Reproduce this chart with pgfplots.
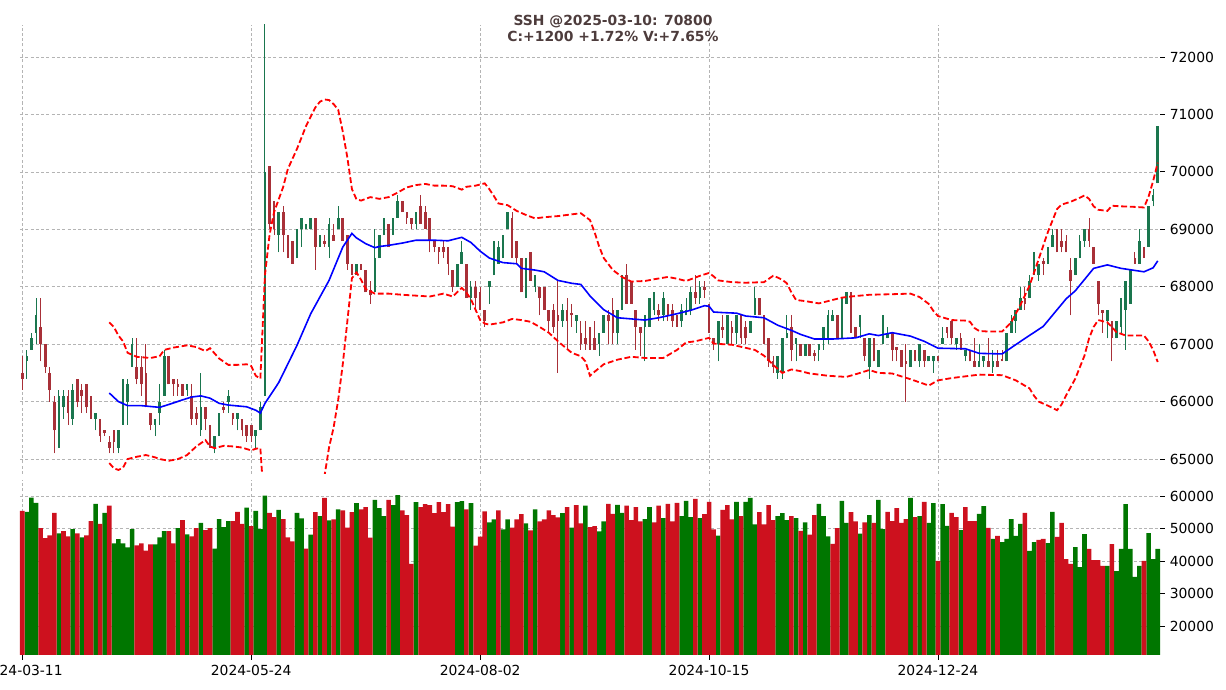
\documentclass[border=0pt]{standalone}
\usepackage{fontspec}
\setmainfont{DejaVu Sans}
\usepackage{pgfplots}
\usepackage{pgfplotstable}
\pgfplotsset{compat=1.18}
\definecolor{cgreen}{RGB}{26,118,78}
\definecolor{cred}{RGB}{168,48,56}
\definecolor{vgreen}{RGB}{0,118,0}
\definecolor{vred}{RGB}{205,17,30}
\definecolor{titlec}{RGB}{77,60,60}
\definecolor{gridc}{RGB}{180,180,180}

% green candles: index, low, high, open(bottom), close(top)
\pgfplotstableread{
i lo hi bot top
1 66400 66900 66700 66800
2 66900 67200 66900 67100
3 67000 67800 67200 67500
8 65200 66200 65200 66100
9 65700 66200 65900 66100
11 65600 66300 65700 66200
16 65500 65800 65700 65800
21 65100 65500 65200 65500
22 65600 66400 65700 66100
23 65600 66400 66000 66300
24 66600 67100 66600 67000
29 65400 65700 65600 65700
30 65600 66300 65800 66000
31 66100 66900 66100 66800
36 66100 66300 66200 66300
39 65400 66500 65500 65900
42 65100 65400 65200 65400
43 65400 65800 65400 65800
45 65800 66200 66000 66100
47 65500 65800 65700 65800
51 65200 65500 65400 65500
52 65500 66000 65500 65900
53 66100 72600 66100 70000
56 68600 69300 68900 69300
60 68500 69000 68500 69000
61 68700 69200 69000 69200
62 69000 69100 69000 69100
63 69000 69200 69000 69200
65 68700 68900 68700 68900
67 68500 69200 68700 69100
69 69000 69400 69000 69200
73 68200 68400 68200 68400
77 67900 69000 67900 68500
78 68500 68900 68500 68900
79 68900 69200 68900 69100
81 68900 69200 68900 69200
82 69200 69600 69200 69500
86 69000 69300 69100 69300
95 68000 68400 68000 68400
96 68400 68800 68400 68600
98 67600 68100 67800 68000
102 67700 68100 68000 68100
103 68200 68800 68200 68800
104 68400 68800 68400 68700
105 68500 68900 68500 68800
106 69000 69300 69000 69300
110 67800 68500 67800 68500
112 67900 68200 68000 68200
118 67300 67700 67400 67600
121 67200 67500 67400 67500
126 66800 67200 67000 67200
127 67200 67500 67200 67500
130 67000 67600 67200 67600
131 67600 68200 67600 68200
136 66700 67500 67300 67500
137 67300 67800 67300 67800
138 67500 67900 67600 67900
140 67400 67900 67500 67800
144 67300 67700 67400 67600
145 67500 67800 67500 67600
146 67500 68000 67600 67900
148 67700 68100 67800 68000
152 66700 67400 67000 67400
154 67000 67500 67000 67500
156 67000 67500 67200 67500
159 67200 67400 67200 67400
160 67500 68000 67500 67800
165 66400 66800 66500 66800
166 66400 67100 66500 67100
167 67100 67500 67100 67200
169 66700 67100 67000 67100
171 66800 67000 66800 67000
174 66700 67000 66900 67000
175 66900 67300 67100 67300
176 67000 67600 67100 67500
177 67400 67600 67400 67500
179 67100 67800 67100 67800
180 67700 67900 67700 67900
183 67100 67500 67300 67500
185 66400 67100 66600 67100
187 66600 66900 66600 66900
188 67000 67500 67000 67500
189 67100 67300 67100 67200
194 66600 66900 66600 66900
196 66600 67000 66700 67000
198 66700 66800 66700 66800
199 66500 66800 66700 66800
201 67000 67300 67000 67100
204 66900 67100 67000 67100
206 66700 66900 66800 66900
209 66600 67000 66600 66700
210 66600 66800 66700 66800
212 66500 66900 66600 66700
215 66700 67200 66700 67200
216 67200 67500 67200 67400
217 67200 67600 67400 67600
218 67600 68000 67600 67800
220 67800 68200 67800 68100
221 68200 68600 68200 68600
222 68100 68400 68200 68400
224 68400 68700 68400 68700
225 68700 69000 68700 68900
230 68200 68500 68200 68500
231 68500 68900 68500 68800
232 68700 69000 68800 69000
237 67100 67600 67400 67600
239 67100 67400 67100 67400
240 67200 67800 67300 67800
241 66900 68100 67600 68100
242 67700 68300 67700 68300
244 68400 69000 68400 68800
246 68700 69400 68700 69400
247 69400 69700 69500 69600
248 69800 70800 69800 70800
}\gcandle

% red candles: index, low, high, close(bottom), open(top)
\pgfplotstableread{
i lo hi bot top
0 66200 66800 66400 66500
4 66700 67800 67000 67300
5 66500 67000 66600 67000
6 66000 66600 66200 66500
7 65100 66100 65500 66000
10 65600 66200 65800 66100
12 65900 66400 66000 66400
13 65800 66300 66100 66200
14 65800 66300 65900 66300
15 65700 66100 65700 66100
17 65300 65700 65400 65700
18 65400 65500 65450 65500
19 65100 65400 65200 65300
20 65100 65500 65300 65500
25 66300 67100 66400 66600
26 66100 66800 66300 66600
27 65900 67000 65900 66500
28 65500 65800 65600 65800
32 66300 66800 66300 66800
33 66100 66400 66300 66400
34 66100 66400 66250 66300
35 66100 66300 66100 66300
37 65600 66300 65700 66100
38 65600 65900 65700 65800
40 65500 65900 65700 65900
41 65200 65600 65200 65600
44 65800 66000 65850 65900
46 65600 65800 65700 65800
48 65400 65700 65500 65700
49 65300 65600 65400 65600
50 65300 65600 65400 65600
54 69000 70100 69100 70100
55 68900 69500 69000 69500
57 68600 69400 68900 69300
58 68500 68900 68500 68900
59 68400 68800 68400 68800
64 68300 69200 68700 69200
66 68700 68900 68750 68800
68 68800 69100 68800 68900
70 68800 69200 68800 69200
71 68300 68900 68400 68900
72 68200 68400 68200 68400
74 68300 68400 68300 68400
75 67900 68300 67900 68300
76 67700 68100 67850 67950
80 68700 69100 68700 69100
83 69300 69500 69300 69500
84 69100 69300 69200 69300
85 69000 69200 69100 69200
87 69100 69600 69100 69400
88 69000 69400 69000 69300
89 68600 69200 68800 69200
90 68600 68800 68700 68800
91 68400 68700 68600 68700
92 68500 68800 68600 68700
93 68200 68700 68400 68700
94 67900 68300 68000 68300
97 67800 68400 67800 68400
99 67600 68100 67800 68000
100 67600 68000 67600 67900
101 67300 67600 67400 67600
107 68500 69300 68500 69200
108 68400 68800 68500 68800
109 67900 68500 67900 68500
111 68100 68600 68100 68600
113 67500 68000 67800 68000
114 67600 68000 67600 68000
115 67200 67600 67400 67600
116 67200 67700 67300 67600
117 66500 68100 67400 67500
119 66900 67800 67400 67600
120 67300 67700 67500 67550
122 66900 67400 67000 67200
123 66900 67400 67000 67100
124 66900 67300 67000 67100
125 66900 67400 66900 67100
128 67000 67600 67400 67500
129 67000 67800 67200 67600
132 67700 68400 67700 68200
133 67700 68100 67700 68100
134 66900 67600 67300 67600
135 66800 67300 67200 67300
139 67400 67700 67500 67600
141 67400 67700 67500 67700
142 67300 67700 67400 67600
143 67300 67500 67300 67400
147 67700 68200 67800 67900
149 67800 68100 67950 68000
150 67200 67700 67200 67700
151 66900 67100 67000 67100
153 67100 67500 67250 67300
155 67000 67400 67200 67300
157 67000 67500 67100 67500
158 67000 67400 67100 67300
161 67500 67800 67500 67800
162 67000 67500 67000 67500
163 66600 67100 66700 67100
164 66500 66800 66600 66700
168 66700 67500 66900 67300
170 66800 67000 66800 67000
172 66800 67000 66800 67000
173 66700 66900 66800 66850
178 67100 67500 67100 67500
181 67200 67900 67200 67900
182 67100 67300 67100 67300
184 66700 67100 66800 67100
186 66700 67100 66700 67100
190 66700 67200 66900 67200
191 66700 66950 66900 66950
192 66600 66900 66600 66900
193 66000 67000 66650 66700
195 66700 66900 66700 66900
197 66600 66900 66700 66900
200 66700 66800 66700 66800
202 67100 67300 67200 67300
203 67000 67400 67100 67400
205 66900 67200 66900 67100
207 66700 66900 66700 66800
208 66600 67100 66600 66700
211 66600 67100 66600 66700
213 66600 66900 66600 66700
214 66700 66900 66700 66750
219 67600 68000 67700 67800
223 68200 68500 68400 68450
226 68600 69000 68800 68900
227 68600 69000 68700 68800
228 68600 68900 68600 68800
229 67500 68500 68100 68300
233 68700 69200 68800 69000
234 68400 68700 68400 68700
235 67500 68100 67700 68100
236 67200 67600 67550 67600
238 66700 67400 67100 67400
243 68400 68600 68400 68500
245 68500 68700 68600 68650
}\rcandle

\pgfplotstableread{
i v
1 55100
2 59500
3 57900
8 48500
11 49800
13 47300
16 57600
18 54800
20 45400
21 46700
22 45400
23 44200
24 49800
29 45100
30 47300
31 49200
34 50100
36 48200
39 51700
42 43800
43 52900
44 50400
45 52300
49 56400
51 55400
52 49800
53 60100
56 55700
60 54800
61 53100
63 48100
65 53800
67 52500
69 55900
73 57800
77 58800
78 56300
79 53800
81 57200
82 60300
86 58100
95 58100
96 58400
98 57800
102 51900
103 52800
105 49700
106 52800
110 51600
112 55900
118 54700
120 50300
123 57000
126 49100
127 52200
130 57300
131 54800
136 52900
137 56600
140 53200
144 53800
145 58500
146 53500
148 53200
152 47800
156 58200
158 58200
159 59400
160 51300
165 53800
166 54700
167 52600
169 53200
171 51900
174 57600
175 53800
176 47600
179 58500
180 51700
183 48400
185 54100
187 58800
188 49800
194 59400
196 53800
198 51700
199 57800
201 57500
202 50800
205 49500
209 54500
210 56900
212 46800
214 45800
215 46800
216 52900
217 47700
218 51400
220 43100
221 45800
224 45500
225 55100
230 44300
231 38100
232 48300
237 38500
239 36900
240 43700
241 57500
242 43700
243 35100
244 38500
246 48600
247 40600
248 43700
}\gvol

\pgfplotstableread{
i v
0 55400
4 50100
5 47000
6 47900
7 54800
9 49200
10 47600
12 48500
14 47900
15 52300
17 51400
19 57000
25 44800
26 45400
27 43200
28 45100
32 49200
33 45400
35 52600
37 47600
38 50100
40 49500
41 50100
46 52300
47 55100
48 51400
50 50700
54 54800
55 53500
57 52900
58 47300
59 46000
62 43800
64 55000
66 59400
68 52800
70 55600
71 50300
72 55000
74 55900
75 56600
76 47200
80 58800
83 55600
84 54100
85 39100
87 56600
88 57500
89 57200
90 54700
91 58100
92 55000
93 57500
94 50600
97 55900
99 44700
100 47500
101 55300
104 55600
107 50300
108 52800
109 54400
111 49400
113 52200
114 52800
115 55600
116 54100
117 53400
119 56600
121 57200
122 51600
124 50400
125 50700
128 57600
129 54500
132 57000
133 52600
134 56600
135 52200
138 51900
139 57000
141 57600
142 52200
143 57900
147 59100
149 54400
150 58200
151 49700
153 55700
154 57200
155 52800
157 53800
161 55000
162 51300
163 57200
164 52600
168 53800
170 49300
172 48100
173 54100
177 45300
178 50100
181 55000
182 52200
184 51900
186 51700
189 55100
190 52300
191 56300
192 51700
193 52900
195 53500
197 58200
200 40000
203 54800
204 53500
206 56600
207 52300
208 52300
211 50200
213 47700
219 54800
222 46500
223 46800
226 47400
227 51700
228 40600
229 39100
233 43700
234 40300
235 40300
236 38500
238 45200
245 40000
}\rvol

\pgfplotsset{
  chartbase/.style={
    scale only axis, anchor=south west,
    width=820.8pt,
    xmin=-0.5, xmax=248.5,
    axis line style={draw=none},
    xtick={0,50,100,150,200},
    ytick pos=right, yticklabel pos=right,
    scaled y ticks=false, scaled x ticks=false,
    tick align=outside, major tick length=3.5pt,
    tick style={black, line width=0.6pt},
    grid=major,
    major grid style={gridc, line width=0.5pt, dash pattern=on 2.2pt off 1.6pt},
    tick label style={font=\fontsize{10}{12}\selectfont},
    /pgf/number format/assume math mode=true,
  },
}

\begin{document}
\begin{tikzpicture}
% price panel
\begin{axis}[chartbase,
  at={(14.4pt,155.52pt)}, height=323.28pt,
  ymin=64740, ymax=72557,
  xticklabels={}, xtick style={draw=none},
  ytick={65000,66000,67000,68000,69000,70000,71000,72000},
  yticklabels={65000,66000,67000,68000,69000,70000,71000,72000},
]
% wicks
\addplot[draw=none, mark=none, forget plot,
  error bars/.cd, y dir=plus, y explicit, error mark=none,
  error bar style={draw=cgreen, line width=0.75pt}]
  table[x=i, y=lo, y error plus expr={\thisrow{hi}-\thisrow{lo}}] {\gcandle};
\addplot[draw=none, mark=none, forget plot,
  error bars/.cd, y dir=plus, y explicit, error mark=none,
  error bar style={draw=cred, line width=0.75pt}]
  table[x=i, y=lo, y error plus expr={\thisrow{hi}-\thisrow{lo}}] {\rcandle};
% bodies
\addplot[draw=none, mark=none, forget plot,
  error bars/.cd, y dir=plus, y explicit, error mark=none,
  error bar style={draw=cgreen, line width=1.9pt}]
  table[x=i, y=bot, y error plus expr={\thisrow{top}-\thisrow{bot}}] {\gcandle};
\addplot[draw=none, mark=none, forget plot,
  error bars/.cd, y dir=plus, y explicit, error mark=none,
  error bar style={draw=cred, line width=1.9pt}]
  table[x=i, y=bot, y error plus expr={\thisrow{top}-\thisrow{bot}}] {\rcandle};
% moving average
\addplot[blue, line width=1.15pt, mark=none] coordinates {
(19,66150) (21,66000) (23,65930) (26,65930) (30,65900) (32,65950) (35,66030) (37,66080) (39,66100) (41,66060) (43,65970) (45,65940) (49,65910) (51,65850) (52,65800) (53,65970) (56,66330) (60,66980) (63,67530) (67,68110) (70,68690) (72,68930) (73,68850) (75,68750) (77,68680) (78,68700) (80,68720) (83,68760) (86,68810) (90,68810) (93,68800) (96,68860) (98,68770) (100,68620) (102,68500) (105,68420) (108,68400) (109,68320) (112,68290) (114,68260) (117,68110) (120,68060) (122,68040) (124,67840) (127,67600) (130,67460) (136,67420) (139,67460) (143,67530) (146,67590) (149,67670) (150,67660) (151,67560) (153,67550) (156,67540) (158,67490) (162,67460) (165,67330) (168,67240) (170,67170) (173,67090) (177,67090) (182,67110) (185,67180) (187,67150) (190,67200) (194,67140) (197,67050) (200,66930) (206,66920) (209,66840) (214,66830) (219,67100) (223,67310) (228,67790) (230,67930) (234,68320) (237,68380) (240,68320) (245,68260) (247,68330) (248,68450)
};
% upper band
\addplot[red, line width=1.3pt, mark=none, dash pattern=on 4.2pt off 2pt] coordinates {
(19,67380) (20,67300) (21,67150) (22,67050) (23,66850) (25,66780) (28,66760) (30,66790) (31,66900) (33,66940) (36,66980) (38,66950) (40,66880) (41,66930) (43,66750) (45,66640) (47,66640) (49,66650) (50,66620) (51,66450) (52,66400) (53,68200) (54,68900) (55,69300) (57,69740) (58,70050) (60,70400) (62,70800) (64,71120) (65,71220) (66,71260) (67,71250) (68,71180) (69,71080) (70,70700) (71,70250) (72,69700) (73,69520) (74,69500) (76,69560) (78,69530) (80,69560) (82,69640) (84,69730) (86,69770) (88,69790) (90,69760) (92,69760) (94,69750) (96,69690) (97,69740) (99,69760) (101,69800) (102,69700) (103,69580) (104,69450) (106,69420) (108,69320) (110,69250) (112,69190) (114,69210) (117,69230) (120,69260) (122,69280) (124,69160) (125,68950) (126,68700) (127,68500) (129,68290) (131,68170) (133,68090) (136,68100) (138,68130) (141,68170) (143,68140) (145,68100) (148,68190) (150,68240) (151,68180) (152,68110) (155,68080) (158,68070) (162,68080) (164,68190) (165,68160) (166,68120) (167,68060) (168,67900) (169,67770) (171,67750) (174,67710) (177,67770) (179,67810) (181,67830) (185,67860) (190,67870) (194,67880) (196,67820) (198,67700) (199,67580) (200,67490) (203,67420) (206,67410) (207,67390) (208,67280) (209,67230) (211,67220) (214,67220) (216,67380) (218,67680) (220,68020) (222,68480) (224,68950) (225,69150) (226,69350) (227,69430) (229,69480) (231,69550) (232,69590) (233,69530) (234,69400) (235,69340) (237,69320) (238,69410) (240,69400) (243,69390) (245,69380) (246,69570) (247,69840) (248,70160)
};
% lower band
\addplot[red, line width=1.3pt, mark=none, dash pattern=on 4.2pt off 2pt] coordinates {
(19,64930) (20,64840) (21,64810) (22,64850) (23,65000) (25,65040) (27,65070) (29,65030) (30,65000) (32,64970) (34,65000) (36,65070) (38,65220) (40,65330) (41,65220) (42,65190) (44,65230) (46,65220) (48,65200) (50,65150) (51,65180) (52,65190) (53,64000) (55,63200) (58,62800) (60,62900) (62,63400) (64,64100) (65,64500) (66,64700) (67,65200) (68,65550) (69,66030) (70,66650) (71,67400) (72,68150) (73,68250) (74,68120) (75,67960) (77,67880) (80,67880) (83,67860) (85,67850) (89,67830) (92,67880) (94,67830) (96,67980) (97,67900) (98,67780) (99,67600) (100,67420) (101,67360) (102,67340) (105,67380) (107,67440) (109,67420) (111,67390) (113,67300) (115,67200) (117,67050) (120,66850) (122,66790) (123,66700) (124,66450) (125,66520) (127,66650) (130,66730) (133,66780) (136,66760) (140,66760) (143,66900) (145,67030) (147,67050) (150,67110) (151,67010) (155,66990) (160,66900) (162,66800) (164,66640) (166,66500) (168,66560) (170,66530) (172,66490) (176,66450) (180,66430) (183,66500) (185,66550) (187,66500) (190,66490) (194,66390) (198,66280) (200,66370) (203,66410) (206,66440) (209,66470) (214,66460) (217,66370) (220,66230) (221,66100) (222,66000) (224,65930) (226,65850) (227,65950) (228,66110) (230,66400) (232,66800) (233,67100) (234,67300) (235,67420) (237,67380) (239,67210) (241,67150) (245,67150) (246,67050) (247,66900) (248,66690)
};
\end{axis}

% volume panel
\begin{axis}[chartbase,
  at={(14.4pt,25.2pt)}, height=126pt,
  ymin=11077, ymax=64923,
  xticklabels={2024-03-11,2024-05-24,2024-08-02,2024-10-15,2024-12-24},
  xtick pos=left,
  ytick={20000,30000,40000,50000,60000},
  yticklabels={20000,30000,40000,50000,60000},
]
\addplot[ybar, bar width=1, bar shift=0pt, fill=vgreen, draw=none] table[x=i, y=v] {\gvol};
\addplot[ybar, bar width=1, bar shift=0pt, fill=vred, draw=none] table[x=i, y=v] {\rvol};
\end{axis}

\node[align=center, text=titlec, font=\fontsize{10}{11.5}\selectfont\bfseries] at (441.36pt,476.6pt)
  {SSH @2025-03-10: 70800\\C:+1200 +1.72\% V:+7.65\%};

\pgfresetboundingbox
\useasboundingbox (0,0) rectangle (882.72pt,496.8pt);
\end{tikzpicture}
\end{document}
